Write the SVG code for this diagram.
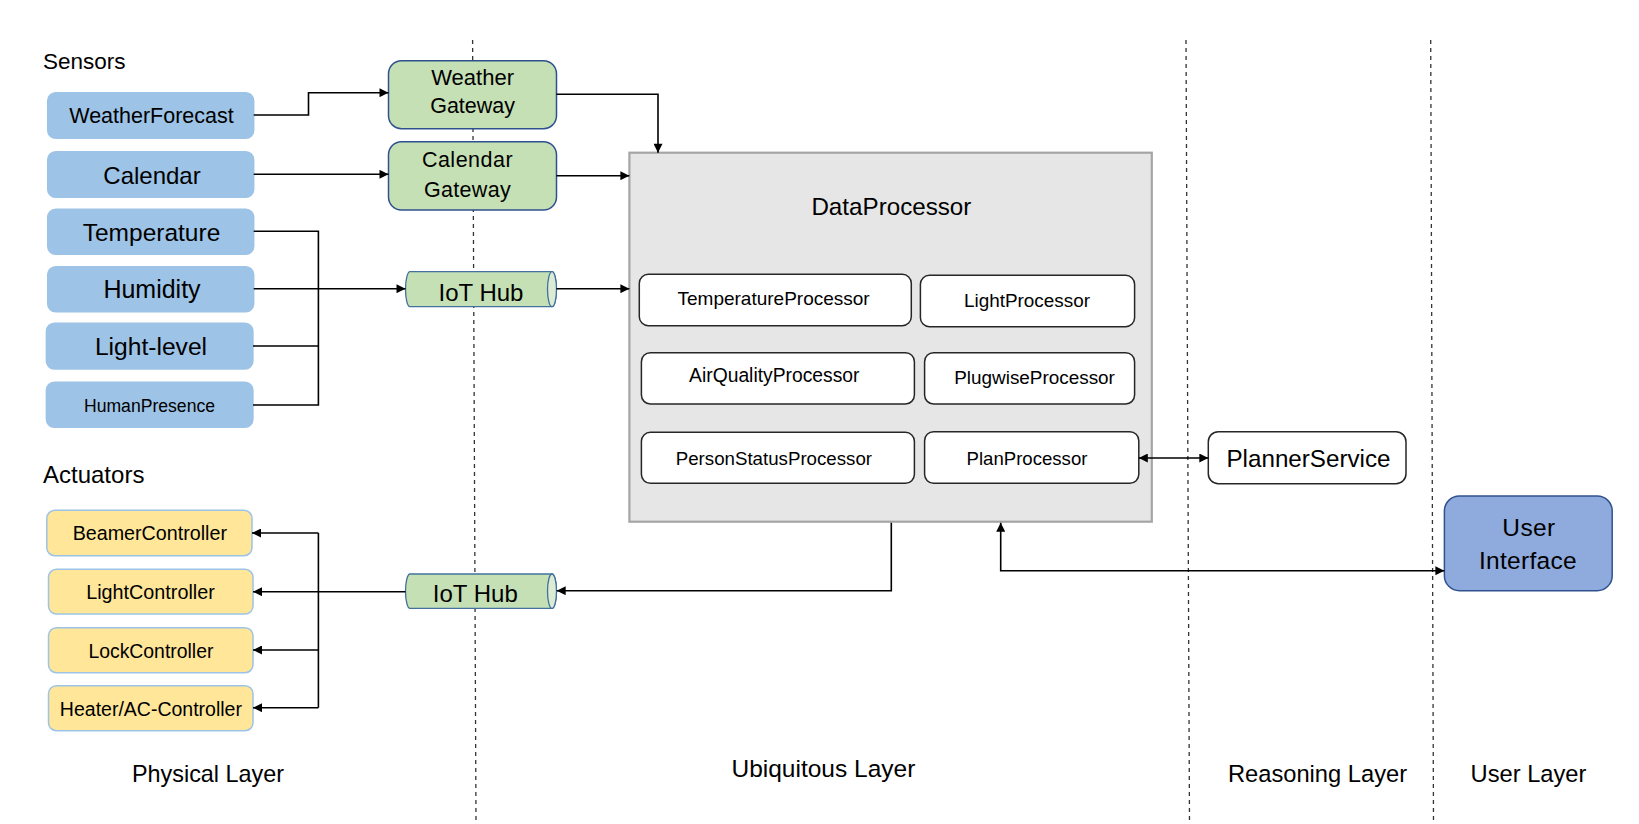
<svg xmlns="http://www.w3.org/2000/svg" width="1639" height="824" viewBox="0 0 1639 824">
<defs>
<style>
text{font-family:"Liberation Sans",Arial,sans-serif;fill:#000;}
.mid{text-anchor:middle;}
.sensor{fill:#9DC3E6;stroke:#9DC3E6;stroke-width:1.5;}
.act{fill:#FFE699;stroke:#9DC3E6;stroke-width:1.5;}
.gw{fill:#C5E0B4;stroke:#2F528F;stroke-width:1.5;}
.hub{fill:#C5E0B4;stroke:#41719C;stroke-width:1.3;}
.hubend{fill:#DCEBD3;stroke:#41719C;stroke-width:1.3;}
.proc{fill:#FFFFFF;stroke:#262626;stroke-width:1.5;}
.dp{fill:#E7E6E6;stroke:#A5A5A5;stroke-width:2.2;}
.ui{fill:#8FAADC;stroke:#2F528F;stroke-width:1.5;}
.line{fill:none;stroke:#000;stroke-width:1.6;}
.dash{fill:none;stroke:#333;stroke-width:1.3;stroke-dasharray:4 4;}
</style>
<marker id="arr" viewBox="0 0 10 10" refX="10" refY="5" markerWidth="10" markerHeight="9" markerUnits="userSpaceOnUse" orient="auto-start-reverse">
<path d="M0,0 L10,5 L0,10 Z" fill="#000"/>
</marker>
</defs>
<rect width="1639" height="824" fill="#FFFFFF"/>

<g id="layers">
<line class="dash" x1="472.6" y1="40" x2="476" y2="824"/>
<line class="dash" x1="1186" y1="40" x2="1189.5" y2="824"/>
<line class="dash" x1="1430.7" y1="40" x2="1433.5" y2="824"/>
<text x="43" y="69" font-size="22.5">Sensors</text>
<text x="43" y="482.7" font-size="24">Actuators</text>
<text class="mid" x="208" y="781.7" font-size="23.4">Physical Layer</text>
<text class="mid" x="823.4" y="777.3" font-size="24.5">Ubiquitous Layer</text>
<text class="mid" x="1317.5" y="781.7" font-size="23.7">Reasoning Layer</text>
<text class="mid" x="1528.5" y="781.7" font-size="23.7">User Layer</text>
</g>

<g id="weatherforecast">
<rect class="sensor" x="47.7" y="92.7" width="206" height="45.6" rx="8"/>
<text class="mid" x="151.5" y="123.2" font-size="21.5">WeatherForecast</text>
</g>
<g id="calendar">
<rect class="sensor" x="47.7" y="151.7" width="206" height="45.6" rx="8"/>
<text class="mid" x="152" y="184" font-size="24">Calendar</text>
</g>
<g id="temperature">
<rect class="sensor" x="47.7" y="209.3" width="206" height="45" rx="8"/>
<text class="mid" x="151.5" y="240.7" font-size="24.5">Temperature</text>
</g>
<g id="humidity">
<rect class="sensor" x="47.7" y="266.7" width="206" height="45" rx="8"/>
<text class="mid" x="152" y="297.7" font-size="25">Humidity</text>
</g>
<g id="lightlevel">
<rect class="sensor" x="46.4" y="323.3" width="206.5" height="45.7" rx="8"/>
<text class="mid" x="151" y="355" font-size="24.6">Light-level</text>
</g>
<g id="humanpresence">
<rect class="sensor" x="46.4" y="382.3" width="206.5" height="45" rx="8"/>
<text class="mid" x="149.5" y="411.5" font-size="17.6">HumanPresence</text>
</g>

<g id="weathergateway">
<rect class="gw" x="388.5" y="60.7" width="168" height="68" rx="13"/>
<text class="mid" x="472.6" y="85" font-size="22">Weather</text>
<text class="mid" x="472.6" y="113.3" font-size="21.5">Gateway</text>
</g>
<g id="calendargateway">
<rect class="gw" x="388.5" y="141.7" width="168" height="68.3" rx="13"/>
<text class="mid" x="467.5" y="166.7" font-size="21.5" letter-spacing="0.5">Calendar</text>
<text class="mid" x="467.5" y="196.7" font-size="21.5" letter-spacing="0.3">Gateway</text>
</g>
<g id="iothub-in">
<path class="hub" d="M410,271.7 H552 A4.5,17.5 0 0 1 552,306.7 H410 A4.5,17.5 0 0 1 410,271.7 Z"/>
<ellipse class="hubend" cx="552" cy="289.2" rx="4.5" ry="17.5"/>
<text class="mid" x="481" y="300.5" font-size="24">IoT Hub</text>
</g>
<g id="iothub-out">
<path class="hub" d="M410,574 H552 A4.5,17.2 0 0 1 552,608.4 H410 A4.5,17.2 0 0 1 410,574 Z"/>
<ellipse class="hubend" cx="552" cy="591.2" rx="4.5" ry="17.2"/>
<text class="mid" x="475.3" y="601.7" font-size="24">IoT Hub</text>
</g>

<g id="dataprocessor">
<rect class="dp" x="629.4" y="152.7" width="522.4" height="369"/>
<text class="mid" x="891.4" y="215" font-size="24.2">DataProcessor</text>
</g>
<g id="temperatureprocessor">
<rect class="proc" x="639.3" y="274.3" width="272" height="51.4" rx="9"/>
<text class="mid" x="773.6" y="305" font-size="19">TemperatureProcessor</text>
</g>
<g id="lightprocessor">
<rect class="proc" x="920.4" y="275.3" width="214.2" height="51.4" rx="9"/>
<text class="mid" x="1027" y="306.7" font-size="18.9">LightProcessor</text>
</g>
<g id="airqualityprocessor">
<rect class="proc" x="641.4" y="352.7" width="273" height="51.3" rx="9"/>
<text class="mid" x="774.3" y="381.7" font-size="19.3">AirQualityProcessor</text>
</g>
<g id="plugwiseprocessor">
<rect class="proc" x="924.6" y="352.7" width="210" height="51.3" rx="9"/>
<text class="mid" x="1034.6" y="384" font-size="18.9">PlugwiseProcessor</text>
</g>
<g id="personstatusprocessor">
<rect class="proc" x="641.4" y="432.3" width="273" height="51" rx="9"/>
<text class="mid" x="773.9" y="465" font-size="18.7">PersonStatusProcessor</text>
</g>
<g id="planprocessor">
<rect class="proc" x="924.6" y="431.7" width="214.2" height="51.6" rx="9"/>
<text class="mid" x="1027" y="465" font-size="18.6">PlanProcessor</text>
</g>

<g id="plannerservice">
<rect class="proc" x="1208.3" y="431.7" width="197.7" height="52" rx="10"/>
<text class="mid" x="1308.5" y="467.3" font-size="24.2">PlannerService</text>
</g>

<g id="userinterface">
<rect class="ui" x="1444.4" y="496" width="167.8" height="94.7" rx="15"/>
<text class="mid" x="1529" y="536" font-size="24.5" letter-spacing="0.4">User</text>
<text class="mid" x="1528" y="569.3" font-size="24.5" letter-spacing="0.3">Interface</text>
</g>

<g id="beamercontroller">
<rect class="act" x="46.8" y="510.3" width="205.2" height="45.4" rx="8"/>
<text class="mid" x="149.8" y="540" font-size="19.7">BeamerController</text>
</g>
<g id="lightcontroller">
<rect class="act" x="48.5" y="569.3" width="204.5" height="44.7" rx="8"/>
<text class="mid" x="150.5" y="599.3" font-size="19.8">LightController</text>
</g>
<g id="lockcontroller">
<rect class="act" x="48.5" y="627.7" width="204.5" height="45" rx="8"/>
<text class="mid" x="150.9" y="657.7" font-size="19.4">LockController</text>
</g>
<g id="heatercontroller">
<rect class="act" x="48.5" y="685.7" width="204.5" height="45" rx="8"/>
<text class="mid" x="150.9" y="716" font-size="19.5">Heater/AC-Controller</text>
</g>

<g id="connectors">
<path class="line" d="M253.7,115 H308.5 V92.7 H388.5" marker-end="url(#arr)"/>
<path class="line" d="M253.7,174.3 H388.5" marker-end="url(#arr)"/>
<path class="line" d="M253.7,231.3 H318.4 V405 H253"/>
<path class="line" d="M253,346 H318.4"/>
<path class="line" d="M253.7,288.7 H405.5" marker-end="url(#arr)"/>
<path class="line" d="M556.4,94.3 H658 V152.7" marker-end="url(#arr)"/>
<path class="line" d="M556.4,175.7 H629.4" marker-end="url(#arr)"/>
<path class="line" d="M556.4,288.7 H629.4" marker-end="url(#arr)"/>
<path class="line" d="M1138.8,458 H1208.3" marker-start="url(#arr)" marker-end="url(#arr)"/>
<path class="line" d="M891.3,522.8 V590.7 H556.7" marker-end="url(#arr)"/>
<path class="line" d="M405.5,591.7 H253" marker-end="url(#arr)"/>
<path class="line" d="M318.4,533 V707.7"/>
<path class="line" d="M318.4,533 H252" marker-end="url(#arr)"/>
<path class="line" d="M318.4,650 H253" marker-end="url(#arr)"/>
<path class="line" d="M318.4,707.7 H253" marker-end="url(#arr)"/>
<path class="line" d="M1000.7,522.7 V570.7 H1444.4" marker-start="url(#arr)" marker-end="url(#arr)"/>
</g>
</svg>
